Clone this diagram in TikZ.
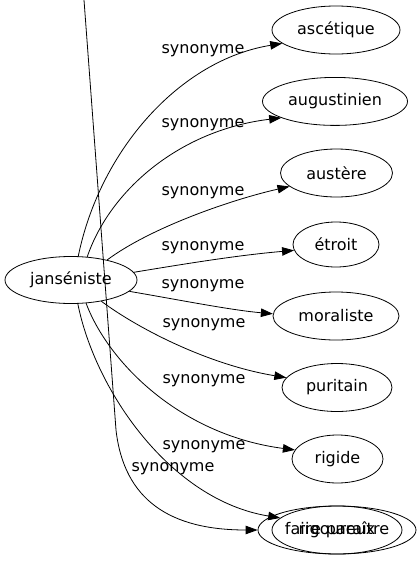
\documentclass[tikz,border=0pt]{standalone}
\usepackage{fontspec}
\setmainfont{DejaVu Sans}
\usetikzlibrary{shapes.geometric,arrows.meta}
\begin{document}
\begin{tikzpicture}[x=1pt,y=-1pt,
  every node/.style={font=\fontsize{16}{19}\selectfont},
  nd/.style={ellipse,draw,line width=0.8pt,inner sep=0pt,minimum height=48pt},
  edge/.style={line width=0.8pt,-{Triangle[length=12pt,width=8.5pt]}},
  lbl/.style={inner sep=0pt}]
\useasboundingbox (0,0) rectangle (416,563);
% nodes
\node[nd,minimum width=132pt,minimum height=47pt] (jan) at (71,280) {janséniste};
\node[nd,minimum width=128pt] (asc) at (336,30) {ascétique};
\node[nd,minimum width=145pt] (aug) at (335,101.4) {augustinien};
\node[nd,minimum width=112pt] (aus) at (336.5,173) {austère};
\node[nd,minimum width=86pt,minimum height=45pt] (etr) at (336,244.5) {étroit};
\node[nd,minimum width=126pt] (mor) at (336,316) {moraliste};
\node[nd,minimum width=110pt] (pur) at (337,387.5) {puritain};
\node[nd,minimum width=91pt] (rig) at (337.5,459) {rigide};
\node[nd,minimum width=130pt] (rgx) at (337,530) {rigoureux};
\node[nd,minimum width=158pt] (fp) at (337,530) {faire paraître};
\coordinate (top) at (84,0);
% edges
\draw[edge] (jan.73) .. controls (100,150) and (180,60) .. (asc.194);
\draw[edge] (jan.55) .. controls (110,190) and (180,130) .. (aug.197);
\draw[edge] (jan.29) .. controls (150,228) and (230,200) .. (aus.196);
\draw[edge] (jan.7) .. controls (190,263) and (240,255) .. (etr.188);
\draw[edge] (jan.349) .. controls (180,300) and (230,310) .. (mor.178);
\draw[edge] (jan.325) .. controls (140,330) and (210,365) .. (pur.169);
\draw[edge] (jan.303) .. controls (108,362) and (180,435) .. (rig.168);
\draw[edge] (jan.286) .. controls (95,390) and (170,500) .. (rgx.168);
\draw[edge] (top) -- (116,430) .. controls (124,500) and (170,530) .. (fp.180);
% labels
\node[lbl] (l1) at (203,51) {synonyme};
\node[lbl] (l2) at (203,125) {synonyme};
\node[lbl] (l3) at (203,193) {synonyme};
\node[lbl] (l4) at (203,248) {synonyme};
\node[lbl] (l5) at (203,286) {synonyme};
\node[lbl] (l6) at (204,325) {synonyme};
\node[lbl] (l7) at (204,381) {synonyme};
\node[lbl] (l8) at (204,447) {synonyme};
\node[lbl] (l9) at (173,469) {synonyme};
\end{tikzpicture}
\end{document}
